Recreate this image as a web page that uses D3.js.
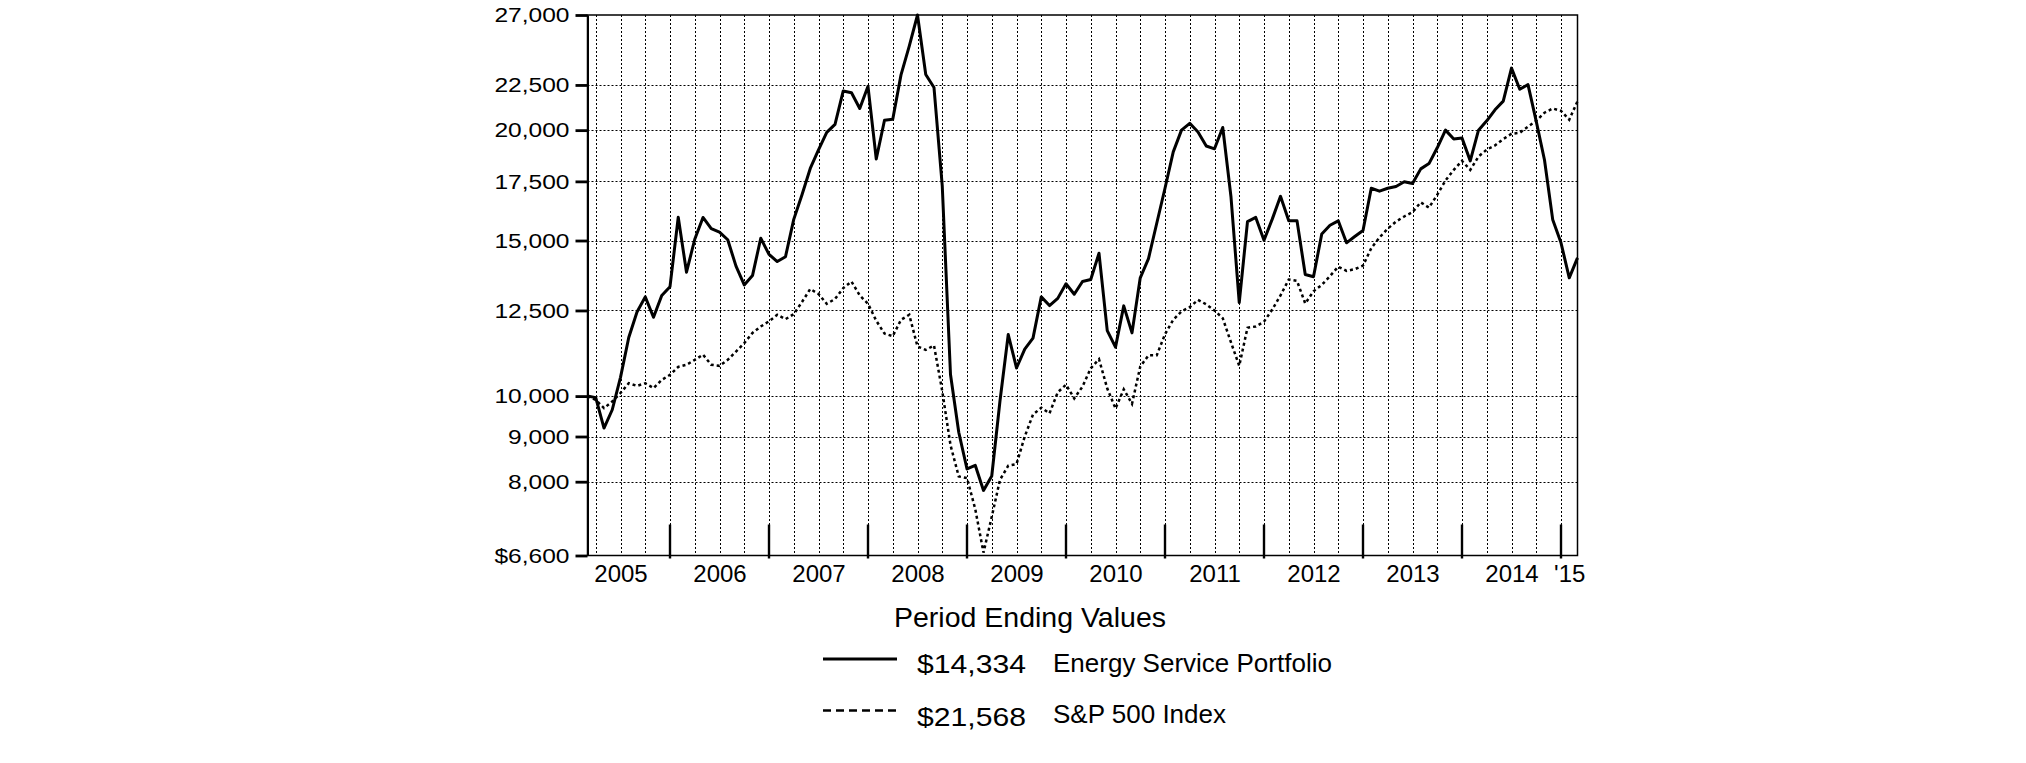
<!DOCTYPE html>
<html><head><meta charset="utf-8">
<script src="https://cdn.jsdelivr.net/npm/d3@7"></script>
<style>
body{margin:0;background:#fff}
svg{display:block;background:#fff}
text{font-family:"Liberation Sans",Arial,Helvetica,sans-serif;fill:#000}
</style>
</head><body>
<svg id="chart" width="2026" height="763"></svg>
<script>
// ---------------- data ----------------
// monthly period-ending values, index 0 = Feb 2005 ... index 120 = Feb 2015
const energyValues = [
 10000, 9960, 9200, 9650, 10500, 11650, 12450, 12950, 12280, 13000,
 13300, 15940, 13810, 15050, 15930, 15470, 15330, 15030, 14030, 13360,
 13690, 15090, 14470, 14200, 14380, 15850, 16900, 18100, 19000, 19880,
 20300, 22150, 22050, 21160, 22420, 18550, 20520, 20580, 23100, 24900,
 27000, 23120, 22350, 17300, 10580, 9100, 8270, 8350, 7820, 8120,
 9880, 11740, 10760, 11300, 11630, 12950, 12660, 12900, 13400, 13040,
 13480, 13550, 14510, 11860, 11360, 12650, 11790, 13610, 14310, 15690,
 17190, 18900, 20000, 20360, 19900, 19190, 19050, 20140, 16800, 12760,
 15760, 15930, 15010, 15860, 16830, 15790, 15790, 13730, 13650, 15260,
 15610, 15790, 14910, 15160, 15400, 17190, 17060, 17190, 17270, 17480,
 17400, 18080, 18330, 19100, 20000, 19540, 19590, 18460, 20000, 20490,
 21090, 21570, 23510, 22250, 22520, 20460, 18500, 15830, 14910, 13610,
 14334
];
const sp500Values = [
 10000, 9900, 9690, 9860, 10080, 10340, 10270, 10340, 10210, 10430,
 10570, 10790, 10850, 10990, 11140, 10850, 10820, 10990, 11230, 11480,
 11790, 11990, 12150, 12360, 12220, 12380, 12780, 13220, 13050, 12720,
 12880, 13250, 13480, 13000, 12720, 12170, 11770, 11690, 12200, 12360,
 11380, 11280, 11410, 10130, 8800, 8110, 8075, 7450, 6650, 7300,
 8040, 8340, 8375, 9000, 9530, 9700, 9560, 10100, 10300, 9940,
 10250, 10750, 11010, 10200, 9680, 10180, 9800, 10800, 11120, 11120,
 11750, 12200, 12470, 12610, 12850, 12700, 12500, 12250, 11500, 10820,
 11950, 11990, 12140, 12530, 13000, 13550, 13500, 12730, 13140, 13360,
 13670, 14010, 13860, 13920, 14050, 14700, 15120, 15470, 15760, 15970,
 16150, 16570, 16340, 16900, 17540, 18030, 18460, 18030, 18670, 19010,
 19220, 19540, 19810, 19860, 20180, 20490, 20930, 21160, 21030, 20550,
 21568
];
const yTickValues = [6600, 8000, 9000, 10000, 12500, 15000, 17500, 20000, 22500, 27000];
const yearLabels = ["2005","2006","2007","2008","2009","2010","2011","2012","2013","2014","'15"];
const legendTitle = "Period Ending Values";
const seriesNames = ["Energy Service Portfolio", "S&P 500 Index"];
const endingLabels = ["$14,334", "$21,568"];

// ---------------- layout ----------------
const L = 587.5, R = 1577.5, T = 15, B = 555.5;
const nMonths = energyValues.length - 1; // 120
const svg = d3.select("#chart");

const x = d3.scaleLinear().domain([0, nMonths]).range([L, R]);
const y = d3.scaleLog().domain([6600, 27000]).range([B, T]);

// quarter-end gridlines (Mar, Jun, Sep, Dec) : month index i with i%3==1
const quarterIdx = d3.range(0, nMonths + 1).filter(i => i % 3 === 1);
const yearEndIdx = d3.range(0, nMonths + 1).filter(i => i % 12 === 10);
const yearLabelPos = yearLabels.map((d, k) => k < yearLabels.length - 1 ? 4 + 12 * k : (yearEndIdx[yearEndIdx.length-1] + nMonths) / 2);

const grid = svg.append("g");
grid.selectAll("line.v").data(quarterIdx).join("line")
  .attr("x1", d => Math.round(x(d)) + 0.5).attr("x2", d => Math.round(x(d)) + 0.5)
  .attr("y1", T).attr("y2", B)
  .attr("stroke", "#000").attr("stroke-width", 1).attr("stroke-dasharray", "2,2");
grid.selectAll("line.h").data(yTickValues.filter(v => v !== 6600 && v !== 27000)).join("line")
  .attr("x1", L).attr("x2", R)
  .attr("y1", d => Math.round(y(d)) + 0.5).attr("y2", d => Math.round(y(d)) + 0.5)
  .attr("stroke", "#000").attr("stroke-width", 1).attr("stroke-dasharray", "2,2");

// frame
svg.append("rect").attr("x", L).attr("y", T).attr("width", R - L).attr("height", B - T)
  .attr("fill", "none").attr("stroke", "#000").attr("stroke-width", 1.5);

// year-end tall ticks
svg.append("g").selectAll("line").data(yearEndIdx).join("line")
  .attr("x1", d => x(d)).attr("x2", d => x(d))
  .attr("y1", B - 31).attr("y2", B + 3)
  .attr("stroke", "#000").attr("stroke-width", 2.4);

// y axis
const sx = 1.17;
const yAxis = d3.axisLeft(y).tickValues(yTickValues).tickSize(12).tickSizeOuter(0).tickPadding(6)
  .tickFormat(d => (d === 6600 ? "$" : "") + d3.format(",")(d));
const ya = svg.append("g").attr("transform", `translate(${L},0)`).call(yAxis);
ya.select(".domain").attr("stroke", "#000").attr("stroke-width", 2);
ya.selectAll(".tick line").attr("stroke", "#000").attr("stroke-width", 2.8);
ya.selectAll(".tick text").attr("font-size", 21)
  .attr("x", -18 / sx).attr("transform", `scale(${sx},1)`)
  .attr("font-family", "Liberation Sans, Arial, sans-serif").attr("fill", "#000");

// x axis year labels
const xAxis = d3.axisBottom(x).tickValues(yearLabelPos).tickSize(0).tickPadding(0)
  .tickFormat((d, k) => yearLabels[k]);
const xa = svg.append("g").attr("transform", `translate(0,${B})`).call(xAxis);
xa.select(".domain").remove();
xa.selectAll(".tick text").attr("font-size", 24).attr("dy", null).attr("y", 26.5)
  .attr("font-family", "Liberation Sans, Arial, sans-serif").attr("fill", "#000");

// series lines
const line = d3.line().x((d, i) => x(i)).y(d => y(d));
svg.append("path").datum(sp500Values).attr("d", line)
  .attr("fill", "none").attr("stroke", "#000").attr("stroke-width", 2.5)
  .attr("stroke-dasharray", "3,3");
svg.append("path").datum(energyValues).attr("d", line)
  .attr("fill", "none").attr("stroke", "#000").attr("stroke-width", 3)
  .attr("stroke-linejoin", "round");

// legend
const lg = svg.append("g");
lg.append("text").attr("x", 1030).attr("y", 627).attr("text-anchor", "middle")
  .attr("font-size", 28.5).text(legendTitle);
const rows = [{y: 659, dash: null, vy: 673, ty: 672}, {y: 710.5, dash: "8,5", vy: 726, ty: 723}];
const vx = 1.16;
rows.forEach((r, k) => {
  lg.append("line").attr("x1", 823).attr("x2", 897).attr("y1", r.y).attr("y2", r.y)
    .attr("stroke", "#000").attr("stroke-width", k === 0 ? 3.2 : 2.6)
    .attr("stroke-dasharray", r.dash);
  lg.append("text").attr("x", 917 / vx).attr("y", r.vy).attr("font-size", 26)
    .attr("transform", `scale(${vx},1)`).text(endingLabels[k]);
  lg.append("text").attr("x", 1053).attr("y", r.ty).attr("font-size", 26)
    .text(seriesNames[k]);
});
</script>
</body></html>
